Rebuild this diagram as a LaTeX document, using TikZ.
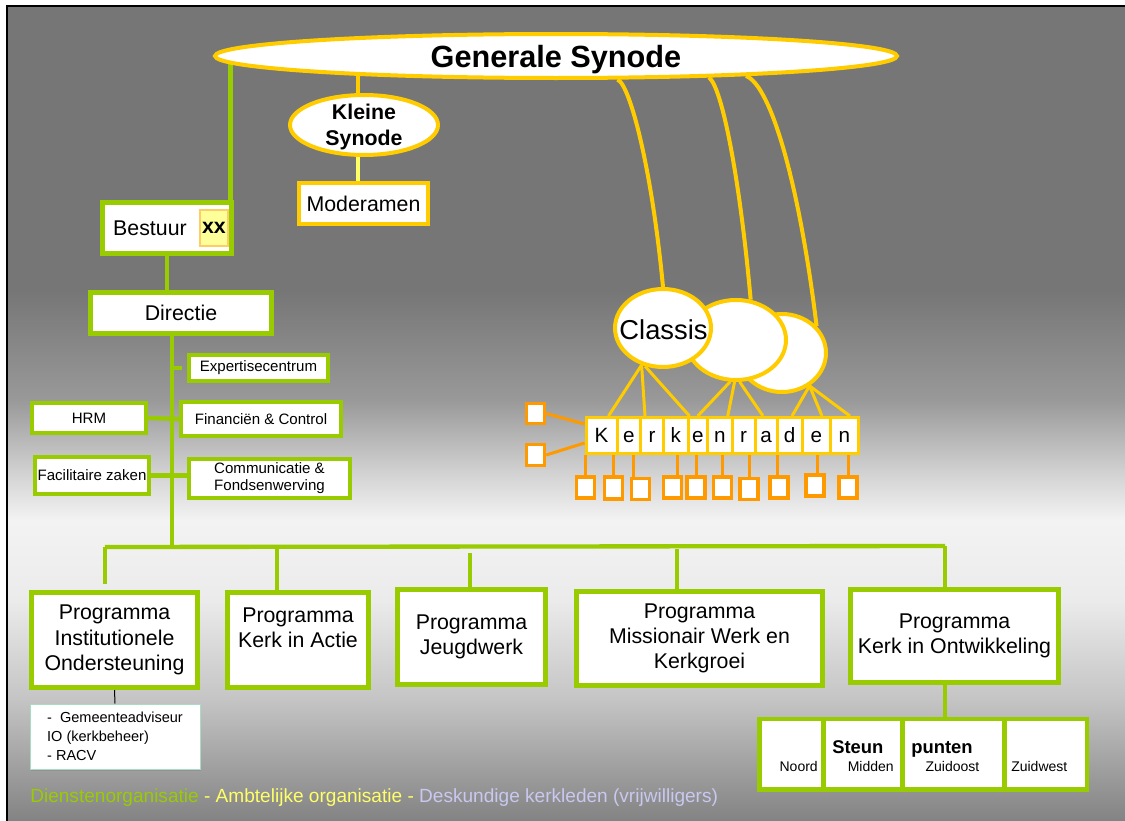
\documentclass[tikz,border=0pt]{standalone}
\usepackage{fontspec}
\setmainfont{Liberation Sans}
\usetikzlibrary{shapes.geometric,shadows,calc}
\definecolor{gbg}{HTML}{767676}
\definecolor{lgreen}{HTML}{99CC00}
\definecolor{syel}{HTML}{FFCC00}
\definecolor{pyel}{HTML}{FFFF66}
\definecolor{orng}{HTML}{FF9900}
\definecolor{xxfill}{HTML}{FFFF99}
\definecolor{xxdraw}{HTML}{FFCC66}
\definecolor{lav}{HTML}{C8C8F0}
\definecolor{mint}{HTML}{A8DCC4}
\definecolor{bgA}{HTML}{999999}
\definecolor{bgB}{HTML}{D0D0D0}
\definecolor{bgC}{HTML}{F3F3F3}
\definecolor{bgD}{HTML}{EBEBEB}
\definecolor{bgE}{HTML}{C4C4C4}
\definecolor{bgF}{HTML}{7E7E7E}
\newcommand\fbig{\fontsize{16pt}{19pt}\selectfont}
\newcommand\fsm{\fontsize{11.3pt}{12.75pt}\selectfont}
\newcommand\fgem{\fontsize{10.9pt}{14.25pt}\selectfont}
\newcommand\fkr{\fontsize{15.5pt}{18pt}\selectfont}
\newcommand\fstp{\fontsize{10.5pt}{12pt}\selectfont}
\pgfdeclarelayer{back}
\pgfsetlayers{back,main}
\begin{document}
\begin{tikzpicture}[x=0.75pt,y=-0.75pt,
  sz/.style 2 args={minimum width=#1*0.75pt,minimum height=#2*0.75pt},
  gbox/.style={draw=lgreen,line width=3.75pt,fill=white,inner sep=0pt,align=center,font=\fbig},
  sbox/.style={draw=lgreen,line width=3pt,fill=white,inner sep=0pt,align=center,font=\fsm},
  obox/.style={draw=syel,line width=3pt,fill=white,inner sep=0pt,font=\fbig},
  oval/.style={ellipse,draw=syel,line width=3pt,fill=white,inner sep=0pt},
  kbox/.style={draw=syel,line width=2.25pt,fill=white,inner sep=0pt,font=\fkr,text height=11.2pt,text depth=0pt},
  osq/.style={draw=orng,line width=2.6pt,fill=white,inner sep=0pt},
  cell/.style={fill=white,inner sep=0pt},
  gline/.style={draw=lgreen,line width=3.25pt},
  yline/.style={draw=syel,line width=3pt},
  fanline/.style={draw=syel,line width=2.25pt},
  oline/.style={draw=orng,line width=2.25pt},
  txt/.style={inner sep=0pt}]
\useasboundingbox (0,0) rectangle (1125,821);
\begin{pgfonlayer}{back}
\fill[white] (0,0) rectangle (1125,821);
\fill[gbg] (7,6) rectangle (1140,290.5);
\shade[top color=gbg,bottom color=bgA] (7,290) rectangle (1140,400.5);
\shade[top color=bgA,bottom color=bgB] (7,400) rectangle (1140,470.5);
\shade[top color=bgB,bottom color=bgC] (7,470) rectangle (1140,520.5);
\shade[top color=bgC,bottom color=bgD] (7,520) rectangle (1140,600.5);
\shade[top color=bgD,bottom color=bgE] (7,600) rectangle (1140,700.5);
\shade[top color=bgE,bottom color=bgF] (7,700) rectangle (1140,830);
\draw[black,line width=2pt] (7,840) -- (7,6) -- (1140,6);
\end{pgfonlayer}

% ---------- ellipses ----------
\node[oval,sz={682}{44}] (syn) at (556,56) {};
\node[txt,anchor=base,font=\bfseries\fontsize{23pt}{26pt}\selectfont] (syntxt) at (556,67.5) {Generale Synode};
\node[oval,sz={148}{60}] (ks) at (364,125) {};
\node[txt,align=center,font=\bfseries\fontsize{16pt}{20pt}\selectfont] (kstxt) at (364,127) {Kleine\\Synode};
\node[oval,sz={88}{78}] (c3) at (782,353) {};
\node[oval,sz={100}{80}] (c2) at (736,340) {};
\node[oval,sz={96}{78}] (c1) at (663,328) {};
\node[txt,font=\fontsize{20.5pt}{24pt}\selectfont] (cltxt) at (663.5,330) {Classis};

% ---------- boxes ----------
\node[obox,sz={129}{41}] (mod) at (363.5,203.5) {Moderamen};
\node[gbox,sz={129}{51}] (best) at (167,228) {Bestuur\hspace*{25.5pt}};
\node[draw=xxdraw,fill=xxfill,line width=1.5pt,inner sep=0pt,sz={28}{36},font=\bfseries\fbig] (xx) at (214,228) {xx};
\node[gbox,sz={181}{41}] (dir) at (181,313) {Directie};
\node[sbox,sz={139}{26}] (exp) at (258.5,368) {Expertisecentrum};
\node[sbox,sz={114}{30}] (hrm) at (89,418) {HRM};
\node[sbox,sz={160}{34}] (fin) at (261,419) {Financiën \& Control};
\node[sbox,sz={114}{37}] (fac) at (92,475.5) {Facilitaire zaken};
\node[sbox,sz={161}{39}] (comm) at (269.5,478.5) {Communicatie \&\\Fondsenwerving};

\node[gbox,sz={166}{95}] (inst) at (114.5,640) {Programma\\Institutionele\\Ondersteuning};
\node[gbox,sz={141}{95}] (kia) at (298,640) {Programma\\Kerk in Actie\\\mbox{}};
\node[gbox,sz={148}{95}] (jeugd) at (471.5,637) {Programma\\Jeugdwerk};
\node[gbox,sz={246}{94}] (miss) at (699.5,638.5) {Programma\\Missionair Werk en\\Kerkgroei};
\node[gbox,sz={208}{93}] (kio) at (954.5,636) {Programma\\Kerk in Ontwikkeling};

\node[draw=mint,line width=0.75pt,fill=white,drop shadow={shadow xshift=1pt,shadow yshift=-1.5pt,opacity=0.4},
      sz={170}{65},align=left,font=\fgem,inner sep=0pt] (gem) at (115,736.5)
      {-\ \ Gemeenteadviseur\\IO (kerkbeheer)\\- RACV};

% ---------- steunpunten ----------
\node[fill=lgreen,inner sep=0pt,sz={332}{75}] (stp) at (923,754.5) {};
\node[cell,sz={59}{66}] (sp1) at (791.5,754) {};
\node[cell,sz={74}{66}] (sp2) at (863,754) {};
\node[cell,sz={97}{66}] (sp3) at (953.5,754) {};
\node[cell,sz={78}{66}] (sp4) at (1046,754) {};
\node[txt,anchor=base east,font=\fstp] (tno) at (818,771) {Noord};
\node[txt,anchor=base east,font=\fstp] (tmi) at (894,771) {Midden};
\node[txt,anchor=base,font=\fstp] (tzo) at (952.5,771) {Zuidoost};
\node[txt,anchor=base west,font=\fstp] (tzw) at (1011,771) {Zuidwest};
\node[txt,anchor=base west,font=\bfseries\fontsize{13.8pt}{16pt}\selectfont] (tst) at (832,753) {Steun};
\node[txt,anchor=base west,font=\bfseries\fontsize{13.8pt}{16pt}\selectfont] (tpu) at (911,753) {punten};

% ---------- kerkraden ----------
\node[kbox,sz={31}{36}] (kr1) at (601.5,435.5) {K};
\node[kbox,sz={23.5}{36}] (kr2) at (628.75,435.5) {e};
\node[kbox,sz={23}{36}] (kr3) at (652,435.5) {r};
\node[kbox,sz={24.5}{36}] (kr4) at (675.75,435.5) {k};
\node[kbox,sz={19.5}{36}] (kr5) at (697.75,435.5) {e};
\node[kbox,sz={24.5}{36}] (kr6) at (719.75,435.5) {n};
\node[kbox,sz={23}{36}] (kr7) at (743.5,435.5) {r};
\node[kbox,sz={22}{36}] (kr8) at (766,435.5) {a};
\node[kbox,sz={25}{36}] (kr9) at (789.5,435.5) {d};
\node[kbox,sz={28.5}{36}] (kr10) at (816.25,435.5) {e};
\node[kbox,sz={27.5}{36}] (kr11) at (844.25,435.5) {n};

\node[osq,sz={18}{20}] (L1) at (535.5,413.5) {};
\node[osq,sz={18}{21}] (L2) at (535.5,455) {};
\node[osq,sz={18}{21}] (b1) at (585.5,487.5) {};
\node[osq,sz={18}{22}] (b2) at (613.5,488) {};
\node[osq,sz={18}{21}] (b3) at (640.5,489) {};
\node[osq,sz={18}{21}] (b4) at (672.5,487.5) {};
\node[osq,sz={18}{21}] (b5) at (696,487.5) {};
\node[osq,sz={18}{21}] (b6) at (722.5,487.5) {};
\node[osq,sz={18}{21}] (b7) at (749,489) {};
\node[osq,sz={18}{21}] (b8) at (779,487.5) {};
\node[osq,sz={18}{21}] (b9) at (815,485.5) {};
\node[osq,sz={18}{21}] (b10) at (848,487.5) {};

% ---------- footer ----------
\node[txt,anchor=base west,font=\fontsize{14.3pt}{16pt}\selectfont] (foot) at (30,802)
  {\textcolor{lgreen}{Dienstenorganisatie} \textcolor{pyel}{- Ambtelijke organisatie -} \textcolor{lav}{Deskundige kerkleden (vrijwilligers)}};

% ---------- connectors (behind) ----------
\coordinate (tk) at (172,547);
\coordinate (barL) at (105,547);
\coordinate (barR) at (945,546);
\coordinate (vk) at (277,547);
\coordinate (vj) at (470,553);
\coordinate (vm) at (677,549);
\begin{pgfonlayer}{back}
\draw[yline] (syn.339.2) .. controls (630,84) and (652,170) .. (c1.north);
\draw[yline] (syn.352.6) .. controls (722,86) and (740,180) .. (c2.70);
\draw[yline] (syn.354.9) .. controls (772,86) and (800,190) .. (c3.38);
\draw[yline] ([xshift=-4.5pt]ks.north) -- ([xshift=-4.5pt]ks.north |- syn.center);
\draw[draw=pyel,line width=3pt] ([xshift=-4.5pt]ks.south) -- ([xshift=-4.5pt]ks.south |- mod.north);
\draw[gline] ([xshift=-2.6pt]best.north east) -- ([xshift=-2.6pt]best.north east |- syn.center);
\draw[gline] (best.south) -- (best.south |- dir.north);
\draw[gline] (tk |- dir.south) -- (tk);
\draw[gline] (tk |- exp.west) -- ++(10,0);
\draw[gline] (hrm.east) -- (fin.west);
\draw[gline] (fac.east) -- (fac.east -| comm.west);
\draw[gline] (barL) -- (barR);
\draw[gline] (barL) -- ($(barL |- inst.north)+(0,-6)$);
\draw[gline] (vk) -- (vk |- kia.north);
\draw[gline] (vj) -- (vj |- jeugd.north);
\draw[gline] (vm) -- (vm |- miss.north);
\draw[gline] (barR) -- (barR |- kio.north);
\draw[gline] (barR |- kio.south) -- (barR |- stp.north);
\draw[black,line width=0.75pt] (inst.south) -- (gem.north);
% fans
\draw[fanline] (c1.240) -- ([xshift=5.25pt]kr1.north);
\draw[fanline] (c1.240) -- ([xshift=-5.25pt]kr3.north);
\draw[fanline] (c1.245) -- (kr4.north east);
\draw[fanline] (c2.262) -- (kr5.north);
\draw[fanline] (c2.268) -- ([xshift=6pt]kr6.north);
\draw[fanline] (c2.275) -- ([xshift=-2.25pt]kr8.north);
\draw[fanline] (c3.310) -- ([xshift=1.9pt]kr9.north);
\draw[fanline] (c3.310) -- ([xshift=4.3pt]kr10.north);
\draw[fanline] (c3.310) -- ([xshift=4.3pt]kr11.north);
% orange
\draw[oline] (L1.east) -- ([yshift=8.6pt]kr1.west);
\draw[oline] (L2.east) -- ([yshift=-5.6pt]kr1.west);
\draw[oline] (b1.north) -- (b1.north |- kr1.south);
\draw[oline] (b2.north) -- (b2.north |- kr1.south);
\draw[oline] ([xshift=-4.9pt]b3.north) -- ([xshift=-4.9pt]b3.north |- kr1.south);
\draw[oline] ([xshift=3.4pt]b4.north) -- ([xshift=3.4pt]b4.north |- kr1.south);
\draw[oline] (b5.north) -- (b5.north |- kr1.south);
\draw[oline] (b6.north) -- (b6.north |- kr1.south);
\draw[oline] (b7.north) -- (b7.north |- kr1.south);
\draw[oline] ([xshift=-1.5pt]b8.north) -- ([xshift=-1.5pt]b8.north |- kr1.south);
\draw[oline] ([xshift=1.5pt]b9.north) -- ([xshift=1.5pt]b9.north |- kr1.south);
\draw[oline] (b10.north) -- (b10.north |- kr1.south);
\end{pgfonlayer}
\end{tikzpicture}
\end{document}
